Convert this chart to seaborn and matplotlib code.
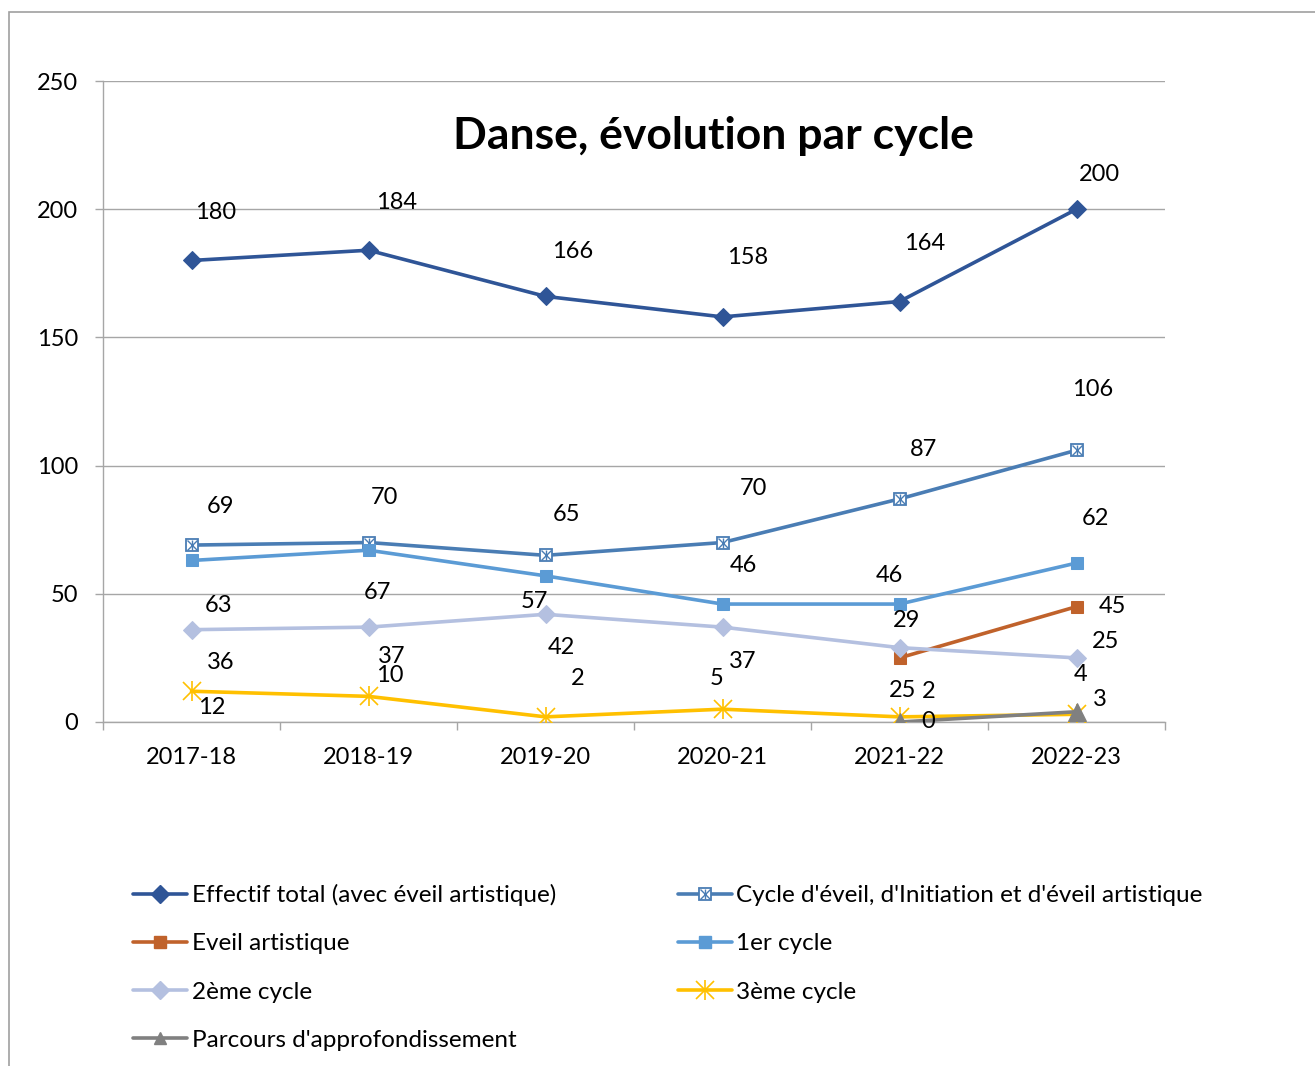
import numpy as np
import pandas as pd
import matplotlib
matplotlib.use("Agg")
import matplotlib.pyplot as plt
import seaborn as sns
from matplotlib.lines import Line2D
from matplotlib.patches import Rectangle

# === Data ===
years = ["2017-18", "2018-19", "2019-20", "2020-21", "2021-22", "2022-23"]
effectif_total = [180, 184, 166, 158, 164, 200]
cycle_eveil = [69, 70, 65, 70, 87, 106]
eveil_artistique = [np.nan, np.nan, np.nan, np.nan, 25, 45]
premier_cycle = [63, 67, 57, 46, 46, 62]
deuxieme_cycle = [36, 37, 42, 37, 29, 25]
troisieme_cycle = [12, 10, 2, 5, 2, 3]
parcours = [np.nan, np.nan, np.nan, np.nan, 0, 4]

names = ["Effectif total (avec éveil artistique)",
         "Cycle d'éveil, d'Initiation et d'éveil artistique",
         "Eveil artistique", "1er cycle", "2ème cycle", "3ème cycle",
         "Parcours d'approfondissement"]
series = [effectif_total, cycle_eveil, eveil_artistique, premier_cycle,
          deuxieme_cycle, troisieme_cycle, parcours]
colors = ["#2F5597", "#4A7DB4", "#C0622B", "#5B9BD5", "#B4C0E0", "#FFC000", "#808080"]

# label offsets in pixels (dx, dy) from each point
label_offsets = [
    [(24, 48), (28, 48), (27, 45), (25, 59), (25, 58), (23, 35)],
    [(29, 39), (16, 45), (21, 41), (31, 54), (24, 49), (16, 61)],
    [None, None, None, None, (3, -33), (36, 0)],
    [(27, -45), (9, -42), (-11, -26), (21, 39), (-10, 29), (19, 45)],
    [(29, -33), (23, -29), (16, -33), (20, -34), (7, 27), (29, 16)],
    [(20, -16), (21, 21), (32, 38), (-6, 31), (29, 25), (23, 15)],
    [None, None, None, None, (29, 0), (4, 37)],
]

sns.set_theme(style="white")
plt.rcParams['font.family'] = ['Lato', 'DejaVu Sans']
plt.rcParams['text.color'] = 'black'

fig = plt.figure(figsize=(13.15, 10.66), dpi=100)
ax = fig.add_axes([103 / 1315, 1 - 722 / 1066, (1165 - 103) / 1315, (722 - 81) / 1066])

x = np.arange(len(years))
lw = 2.6
ms = 9
fs = 17

# main lines
markers = ["D", "s", "s", "s", "D", "x", "^"]
for i, (name, vals) in enumerate(zip(names, series)):
    df = pd.DataFrame({"x": x, "y": vals}).dropna()
    c = colors[i]
    kw = dict(marker=markers[i], markersize=ms, markeredgecolor=c, markerfacecolor=c)
    if i == 1:
        kw.update(markerfacecolor="white", markeredgewidth=1.3, markersize=ms)
    if i == 5:
        kw.update(markersize=ms + 4, markeredgewidth=1.2)
    if i == 6:
        kw.update(markersize=ms + 4)
    sns.lineplot(data=df, x="x", y="y", ax=ax, color=c, linewidth=lw,
                 estimator=None, sort=False, zorder=3 + i, **kw)
    if i == 1:
        ax.plot(df["x"], df["y"], linestyle="none", marker="x", markersize=ms - 1.5,
                markeredgecolor=c, markeredgewidth=1.0, zorder=3 + i)
        ax.plot(df["x"], df["y"], linestyle="none", marker="|", markersize=ms - 1.5,
                markeredgecolor=c, markeredgewidth=1.0, zorder=3 + i)
    if i == 5:
        ax.plot(df["x"], df["y"], linestyle="none", marker="|", markersize=ms + 5,
                markeredgecolor=c, markeredgewidth=1.2, zorder=3 + i)

# data labels
for i, vals in enumerate(series):
    for j, v in enumerate(vals):
        off = label_offsets[i][j]
        if off is None or np.isnan(v):
            continue
        ax.annotate(f"{int(v)}", (x[j], v), xytext=off, textcoords="offset pixels",
                    ha="center", va="center", fontsize=fs, color="black", zorder=20)

# axes styling
ax.set_xlim(-0.5, len(years) - 0.5)
ax.set_ylim(0, 250)
ax.set_yticks([0, 50, 100, 150, 200, 250])
ax.set_xticks(x)
ax.set_xticklabels(years)
ax.set_xticks(np.arange(-0.5, len(years), 1), minor=True)
ax.tick_params(axis="x", which="major", length=0, pad=18, labelsize=fs, labelcolor="black")
ax.tick_params(axis="x", which="minor", length=6, width=1, color="#A6A6A6", direction="out", bottom=True)
ax.tick_params(axis="y", which="major", length=6, width=1, color="#A6A6A6", direction="out",
               left=True, pad=12, labelsize=fs, labelcolor="black")
ax.yaxis.grid(True, color="#A6A6A6", linewidth=1)
ax.xaxis.grid(False)
ax.set_axisbelow(True)
for s in ["top", "right"]:
    ax.spines[s].set_visible(False)
for s in ["left", "bottom"]:
    ax.spines[s].set_color("#A6A6A6")
    ax.spines[s].set_linewidth(1)
ax.set_xlabel("")
ax.set_ylabel("")

fig.text(713 / 1315, 1 - 136 / 1066, "Danse, évolution par cycle", ha="center", va="center",
         fontsize=32, fontweight="bold", color="black")

# legend handles
def handle(i):
    c = colors[i]
    base = dict(color=c, linewidth=lw, markersize=ms, markeredgecolor=c, markerfacecolor=c)
    if i == 1:
        h1 = Line2D([], [], marker="s", **{**base, "markerfacecolor": "white", "markeredgewidth": 1.3})
        h2 = Line2D([], [], linestyle="none", marker="x", markersize=ms - 1.5, markeredgecolor=c,
                    markeredgewidth=1.0)
        h3 = Line2D([], [], linestyle="none", marker="|", markersize=ms - 1.5, markeredgecolor=c,
                    markeredgewidth=1.0)
        return (h1, h2, h3)
    if i == 5:
        h1 = Line2D([], [], marker="x", **{**base, "markersize": ms + 4, "markeredgewidth": 1.2})
        h2 = Line2D([], [], linestyle="none", marker="|", markersize=ms + 5, markeredgecolor=c,
                    markeredgewidth=1.2)
        return (h1, h2)
    return Line2D([], [], marker=markers[i], **base)

order = [0, 2, 4, 6, 1, 3, 5]
leg = fig.legend([handle(i) for i in order], [names[i] for i in order], ncol=2,
                 loc="upper left", bbox_to_anchor=(133 / 1315, 1 - 884 / 1066), frameon=False,
                 fontsize=17.5, handlelength=2.22, handletextpad=0.2, labelspacing=1.12,
                 columnspacing=5.0, borderpad=0, borderaxespad=0)
for t in leg.get_texts():
    t.set_color("black")

# outer chart frame
fig.patches.append(Rectangle((9 / 1315, -0.2), 1.2, 1.2 - 12 / 1066, transform=fig.transFigure,
                             fill=False, edgecolor="#A0A0A0", linewidth=1.2, clip_on=False))

fig.savefig("out.png", dpi=100)
